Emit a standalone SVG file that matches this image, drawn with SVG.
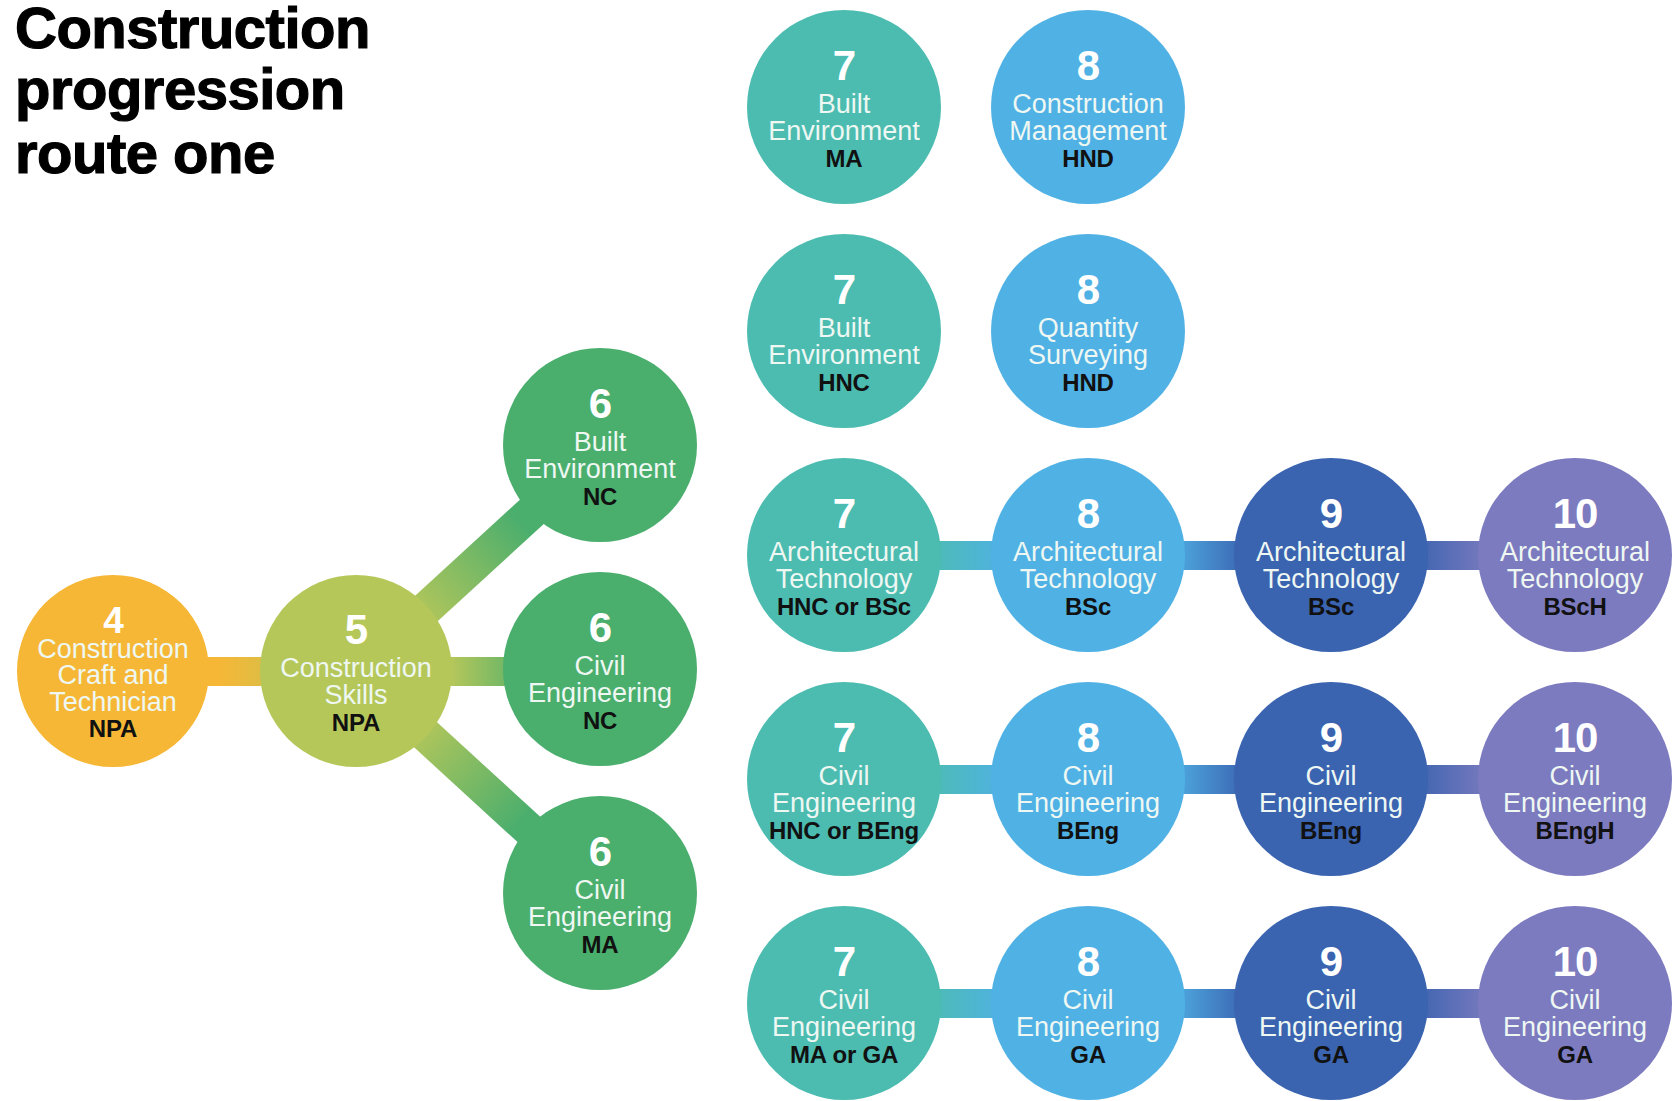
<svg xmlns="http://www.w3.org/2000/svg" width="1673" height="1101" viewBox="0 0 1673 1101">
<defs>
<style>
.num{font-family:"Liberation Sans",Arial,sans-serif;font-weight:bold;font-size:42px;fill:#fff;text-anchor:middle;letter-spacing:-1px}
.lbl{font-family:"Liberation Sans",Arial,sans-serif;font-size:27px;fill:#eef7f2;text-anchor:middle}
.q{font-family:"Liberation Sans",Arial,sans-serif;font-weight:bold;font-size:24px;fill:#111;text-anchor:middle;letter-spacing:-0.2px}
.title{font-family:"Liberation Sans",Arial,sans-serif;font-weight:bold;font-size:58px;fill:#000;stroke:#000;stroke-width:1.2px;letter-spacing:-0.5px}
.c4{fill:#F6B737}.c5{fill:#B6C75A}.c6{fill:#4AAE6D}.c7{fill:#4CBCB1}.c8{fill:#50B1E5}.c9{fill:#3A63B0}.c10{fill:#7D7BBF}
</style>
<linearGradient id="g45"><stop offset="0.2" stop-color="#F6B737"/><stop offset="0.8" stop-color="#B6C75A"/></linearGradient>
<linearGradient id="g56"><stop offset="0.2" stop-color="#B6C75A"/><stop offset="0.8" stop-color="#4AAE6D"/></linearGradient>
<linearGradient id="g78"><stop offset="0.2" stop-color="#4CBCB1"/><stop offset="0.8" stop-color="#50B1E5"/></linearGradient>
<linearGradient id="g89"><stop offset="0.2" stop-color="#50B1E5"/><stop offset="0.8" stop-color="#3A63B0"/></linearGradient>
<linearGradient id="g910"><stop offset="0.2" stop-color="#3A63B0"/><stop offset="0.8" stop-color="#7D7BBF"/></linearGradient>
</defs>
<rect width="1673" height="1101" fill="#fff"/>
<g id="title">
<text class="title" x="15" y="48">Construction</text>
<text class="title" x="15" y="109">progression</text>
<text class="title" x="15" y="173">route one</text>
</g>
<g id="connectors">
<rect x="180" y="657" width="200" height="29" fill="url(#g45)"/>
<rect x="420" y="657" width="150" height="29" fill="url(#g56)"/>
<rect x="0" y="-17" width="240" height="34" fill="url(#g56)" transform="translate(380,651) rotate(-42.5)"/>
<rect x="0" y="-17" width="240" height="34" fill="url(#g56)" transform="translate(380,693) rotate(42.5)"/>
<rect x="900" y="541" width="135" height="29" fill="url(#g78)"/>
<rect x="1140" y="541" width="135" height="29" fill="url(#g89)"/>
<rect x="1385" y="541" width="135" height="29" fill="url(#g910)"/>
<rect x="900" y="765" width="135" height="29" fill="url(#g78)"/>
<rect x="1140" y="765" width="135" height="29" fill="url(#g89)"/>
<rect x="1385" y="765" width="135" height="29" fill="url(#g910)"/>
<rect x="900" y="989" width="135" height="29" fill="url(#g78)"/>
<rect x="1140" y="989" width="135" height="29" fill="url(#g89)"/>
<rect x="1385" y="989" width="135" height="29" fill="url(#g910)"/>
</g>
<g id="n4" transform="translate(113,671)"><circle class="c4" r="96"/><text class="num" y="-38" style="font-size:37px">4</text><text class="lbl" y="-13">Construction</text><text class="lbl" y="13">Craft and</text><text class="lbl" y="40">Technician</text><text class="q" y="66">NPA</text></g>
<g id="n5" transform="translate(356,671)"><circle class="c5" r="96"/><text class="num" y="-27">5</text><text class="lbl" y="6">Construction</text><text class="lbl" y="33">Skills</text><text class="q" y="60">NPA</text></g>
<g id="n6a" transform="translate(600,445)"><circle class="c6" r="97"/><text class="num" y="-27">6</text><text class="lbl" y="6">Built</text><text class="lbl" y="33">Environment</text><text class="q" y="60">NC</text></g>
<g id="n6b" transform="translate(600,669)"><circle class="c6" r="97"/><text class="num" y="-27">6</text><text class="lbl" y="6">Civil</text><text class="lbl" y="33">Engineering</text><text class="q" y="60">NC</text></g>
<g id="n6c" transform="translate(600,893)"><circle class="c6" r="97"/><text class="num" y="-27">6</text><text class="lbl" y="6">Civil</text><text class="lbl" y="33">Engineering</text><text class="q" y="60">MA</text></g>
<g id="r1c7" transform="translate(844,107)"><circle class="c7" r="97"/><text class="num" y="-27">7</text><text class="lbl" y="6">Built</text><text class="lbl" y="33">Environment</text><text class="q" y="60">MA</text></g>
<g id="r1c8" transform="translate(1088,107)"><circle class="c8" r="97"/><text class="num" y="-27">8</text><text class="lbl" y="6">Construction</text><text class="lbl" y="33">Management</text><text class="q" y="60">HND</text></g>
<g id="r2c7" transform="translate(844,331)"><circle class="c7" r="97"/><text class="num" y="-27">7</text><text class="lbl" y="6">Built</text><text class="lbl" y="33">Environment</text><text class="q" y="60">HNC</text></g>
<g id="r2c8" transform="translate(1088,331)"><circle class="c8" r="97"/><text class="num" y="-27">8</text><text class="lbl" y="6">Quantity</text><text class="lbl" y="33">Surveying</text><text class="q" y="60">HND</text></g>
<g id="r3c7" transform="translate(844,555)"><circle class="c7" r="97"/><text class="num" y="-27">7</text><text class="lbl" y="6">Architectural</text><text class="lbl" y="33">Technology</text><text class="q" y="60">HNC or BSc</text></g>
<g id="r3c8" transform="translate(1088,555)"><circle class="c8" r="97"/><text class="num" y="-27">8</text><text class="lbl" y="6">Architectural</text><text class="lbl" y="33">Technology</text><text class="q" y="60">BSc</text></g>
<g id="r3c9" transform="translate(1331,555)"><circle class="c9" r="97"/><text class="num" y="-27">9</text><text class="lbl" y="6">Architectural</text><text class="lbl" y="33">Technology</text><text class="q" y="60">BSc</text></g>
<g id="r3c10" transform="translate(1575,555)"><circle class="c10" r="97"/><text class="num" y="-27">10</text><text class="lbl" y="6">Architectural</text><text class="lbl" y="33">Technology</text><text class="q" y="60">BScH</text></g>
<g id="r4c7" transform="translate(844,779)"><circle class="c7" r="97"/><text class="num" y="-27">7</text><text class="lbl" y="6">Civil</text><text class="lbl" y="33">Engineering</text><text class="q" y="60">HNC or BEng</text></g>
<g id="r4c8" transform="translate(1088,779)"><circle class="c8" r="97"/><text class="num" y="-27">8</text><text class="lbl" y="6">Civil</text><text class="lbl" y="33">Engineering</text><text class="q" y="60">BEng</text></g>
<g id="r4c9" transform="translate(1331,779)"><circle class="c9" r="97"/><text class="num" y="-27">9</text><text class="lbl" y="6">Civil</text><text class="lbl" y="33">Engineering</text><text class="q" y="60">BEng</text></g>
<g id="r4c10" transform="translate(1575,779)"><circle class="c10" r="97"/><text class="num" y="-27">10</text><text class="lbl" y="6">Civil</text><text class="lbl" y="33">Engineering</text><text class="q" y="60">BEngH</text></g>
<g id="r5c7" transform="translate(844,1003)"><circle class="c7" r="97"/><text class="num" y="-27">7</text><text class="lbl" y="6">Civil</text><text class="lbl" y="33">Engineering</text><text class="q" y="60">MA or GA</text></g>
<g id="r5c8" transform="translate(1088,1003)"><circle class="c8" r="97"/><text class="num" y="-27">8</text><text class="lbl" y="6">Civil</text><text class="lbl" y="33">Engineering</text><text class="q" y="60">GA</text></g>
<g id="r5c9" transform="translate(1331,1003)"><circle class="c9" r="97"/><text class="num" y="-27">9</text><text class="lbl" y="6">Civil</text><text class="lbl" y="33">Engineering</text><text class="q" y="60">GA</text></g>
<g id="r5c10" transform="translate(1575,1003)"><circle class="c10" r="97"/><text class="num" y="-27">10</text><text class="lbl" y="6">Civil</text><text class="lbl" y="33">Engineering</text><text class="q" y="60">GA</text></g>
</svg>
